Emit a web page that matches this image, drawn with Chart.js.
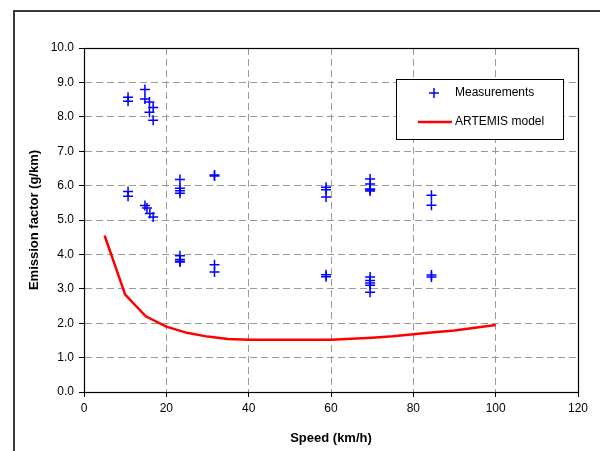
<!DOCTYPE html>
<html>
<head>
<meta charset="utf-8">
<script src="https://cdn.jsdelivr.net/npm/chart.js@4.4.1/dist/chart.umd.min.js"></script>
<style>
html,body{margin:0;padding:0;background:#fff;}
#wrap{position:relative;width:600px;height:451px;overflow:hidden;}
</style>
</head>
<body>
<div id="wrap"><canvas id="c" width="600" height="451"></canvas></div>
<script>
// Measurements (speed km/h, emission factor g/km)
const measSpeed = [
  10.7, 10.7, 10.7, 10.7,
  14.8, 14.8, 15.9, 16.8, 15.9, 16.8, 14.8, 15.3, 16.0, 16.8,
  23.3, 23.3, 23.3, 23.3, 23.3, 23.3, 23.3, 23.3,
  31.7, 31.7, 31.7, 31.7,
  58.8, 58.8, 58.8, 58.8, 58.8,
  69.5, 69.5, 69.5, 69.5, 69.5, 69.5, 69.5, 69.5, 69.5, 69.5,
  84.4, 84.4, 84.4, 84.4
];
const measEF = [
  8.57, 8.45, 5.83, 5.69,
  8.79, 8.52, 8.43, 8.27, 8.13, 7.90, 5.42, 5.35, 5.19, 5.09,
  6.18, 5.92, 5.85, 5.78, 3.96, 3.85, 3.80, 3.78,
  6.31, 6.28, 3.70, 3.49,
  5.95, 5.88, 5.67, 3.41, 3.35,
  6.19, 6.05, 5.90, 5.88, 5.84, 3.34, 3.24, 3.17, 3.10, 2.90,
  5.72, 5.43, 3.40, 3.34
];
// ARTEMIS model curve
const modelSpeed = [5,10,15,20,25,30,35,40,45,50,55,60,65,70,75,80,85,90,95,100];
const modelEF = [4.55,2.83,2.20,1.90,1.72,1.61,1.54,1.52,1.52,1.52,1.52,1.52,1.55,1.58,1.62,1.68,1.74,1.79,1.87,1.95];

const seriesLabels = ['Measurements', 'ARTEMIS model'];
const xTitle = 'Speed (km/h)';
const yTitle = 'Emission factor (g/km)';

const FONT = '"Liberation Sans", Arial, sans-serif';

const framePlugin = {
  id: 'frame',
  beforeDraw(chart) {
    const ctx = chart.ctx;
    ctx.save();
    ctx.fillStyle = '#fff';
    ctx.fillRect(0, 0, chart.width, chart.height);
    ctx.strokeStyle = '#3a3a3a';
    ctx.lineWidth = 2;
    ctx.strokeRect(14, 11, 700, 600);
    ctx.restore();
  },
  afterDatasetsDraw(chart) {
    const ctx = chart.ctx, a = chart.chartArea;
    ctx.save();
    ctx.strokeStyle = '#000';
    ctx.lineWidth = 1.2;
    ctx.strokeRect(Math.round(a.left) + 0.5, Math.round(a.top) + 0.5, Math.round(a.right - a.left), Math.round(a.bottom - a.top));
    ctx.restore();
  },
  afterDraw(chart) {
    const ctx = chart.ctx;
    const ds = chart.data.datasets;
    const bx = 396.5, by = 79.5, bw = 167, bh = 60;
    ctx.save();
    ctx.fillStyle = '#fff';
    ctx.fillRect(bx, by, bw, bh);
    ctx.strokeStyle = '#000';
    ctx.lineWidth = 1;
    ctx.strokeRect(bx, by, bw, bh);
    ctx.font = '12px ' + FONT;
    ctx.fillStyle = '#000';
    ctx.textBaseline = 'middle';
    ctx.textAlign = 'left';
    // entry 1: cross marker
    ctx.strokeStyle = ds[0].borderColor;
    ctx.lineWidth = 1.5;
    ctx.beginPath();
    ctx.moveTo(434 - 5, 93); ctx.lineTo(434 + 5, 93);
    ctx.moveTo(434, 93 - 5); ctx.lineTo(434, 93 + 5);
    ctx.stroke();
    ctx.fillText(ds[0].label, 455, 93);
    // entry 2: line
    ctx.strokeStyle = ds[1].borderColor;
    ctx.lineWidth = 2.5;
    ctx.beginPath();
    ctx.moveTo(418, 122); ctx.lineTo(452, 122);
    ctx.stroke();
    ctx.fillText(ds[1].label, 455, 122);
    ctx.restore();
  }
};

const measData = measSpeed.map((x, i) => ({x: x, y: measEF[i]}));
const modelData = modelSpeed.map((x, i) => ({x: x, y: modelEF[i]}));

new Chart(document.getElementById('c'), {
  type: 'scatter',
  data: {
    datasets: [
      {
        label: seriesLabels[0],
        data: measData,
        showLine: false,
        pointStyle: 'cross',
        pointRadius: 5,
        pointHoverRadius: 5,
        borderColor: '#0000ff',
        backgroundColor: '#0000ff',
        pointBorderWidth: 1.5,
        order: 1
      },
      {
        label: seriesLabels[1],
        data: modelData,
        showLine: true,
        borderColor: '#ff0000',
        backgroundColor: '#ff0000',
        borderWidth: 2.5,
        pointRadius: 0,
        tension: 0,
        order: 2
      }
    ]
  },
  options: {
    responsive: false,
    animation: false,
    devicePixelRatio: 1,
    layout: { padding: { left: 0, right: 22, top: 48, bottom: 0 } },
    plugins: { legend: { display: false }, tooltip: { enabled: false } },
    scales: {
      x: {
        type: 'linear',
        min: 0, max: 120,
        afterFit(s) { s.height = 59; },
        ticks: { stepSize: 20, color: '#000', padding: 4, font: { family: FONT, size: 12 } },
        grid: { color: '#9a9a9a', lineWidth: 1, tickLength: 5, tickColor: '#000', tickBorderDash: [] },
        border: { display: true, color: '#000', width: 1, dash: [7, 4] },
        title: { display: true, text: xTitle, color: '#000', padding: { top: 0, bottom: 5 }, font: { family: FONT, size: 13, weight: 'bold' } }
      },
      y: {
        type: 'linear',
        min: 0, max: 10,
        afterFit(s) { s.width = 84; },
        ticks: { stepSize: 1, color: '#000', padding: 5, font: { family: FONT, size: 12 }, callback: v => v.toFixed(1) },
        grid: { color: '#9a9a9a', lineWidth: 1, tickLength: 5, tickColor: '#000', tickBorderDash: [] },
        border: { display: true, color: '#000', width: 1, dash: [7, 4] },
        title: { display: true, text: yTitle, color: '#000', padding: { top: 27, bottom: 0 }, font: { family: FONT, size: 13, weight: 'bold' } }
      }
    }
  },
  plugins: [framePlugin]
});
</script>
</body>
</html>
